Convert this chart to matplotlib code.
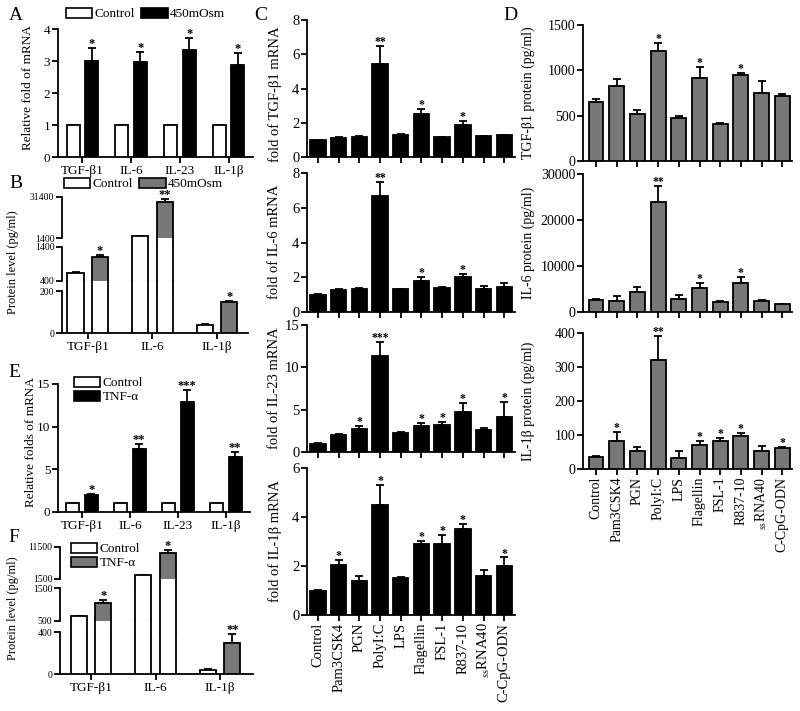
import numpy as np
import matplotlib
matplotlib.use('Agg')
import matplotlib.pyplot as plt
from matplotlib.patches import Patch
from matplotlib.transforms import blended_transform_factory

plt.rcParams['font.family'] = ['Liberation Serif', 'DejaVu Serif']
plt.rcParams['mathtext.fontset'] = 'stix'

# ---------------- data ----------------
genes4 = ['TGF-β1', 'IL-6', 'IL-23', 'IL-1β']
genes3 = ['TGF-β1', 'IL-6', 'IL-1β']

a_ctrl = [1, 1, 1, 1]
a_osm = [3.0, 2.97, 3.35, 2.87]
a_osm_err = [0.42, 0.3, 0.38, 0.37]
a_sig = ['*', '*', '*', '*']

b_ctrl = [650, 2500, 38]
b_ctrl_err = [15, 60, 3]
b_osm = [1110, 27700, 148]
b_osm_err = [50, 2000, 4]
b_sig = ['*', '**', '*']

e_ctrl = [1, 1, 1, 1]
e_tnf = [2.0, 7.4, 12.9, 6.4]
e_tnf_err = [0.15, 0.6, 1.4, 0.6]
e_sig = ['*', '**', '***', '**']

f_ctrl = [650, 2800, 40]
f_ctrl_err = [15, 60, 3]
f_tnf = [1050, 9600, 300]
f_tnf_err = [80, 900, 85]
f_sig = ['*', '*', '**']

tlr = ['Control', 'Pam3CSK4', 'PGN', 'PolyI:C', 'LPS', 'Flagellin', 'FSL-1',
       'R837-10', r'$_{\mathrm{ss}}$RNA40', 'C-CpG-ODN']

c_tgf = [1.0, 1.1, 1.15, 5.45, 1.3, 2.5, 1.15, 1.85, 1.2, 1.27]
c_tgf_err = [0.02, 0.04, 0.06, 1.05, 0.06, 0.3, 0.02, 0.25, 0.03, 0.04]
c_tgf_sig = ['', '', '', '**', '', '*', '', '*', '', '']
c_il6 = [1.0, 1.25, 1.35, 6.7, 1.3, 1.8, 1.4, 2.0, 1.3, 1.45]
c_il6_err = [0.02, 0.06, 0.04, 0.8, 0.04, 0.2, 0.06, 0.2, 0.2, 0.2]
c_il6_sig = ['', '', '', '**', '', '*', '', '*', '', '']
c_il23 = [1.0, 2.0, 2.7, 11.3, 2.3, 3.1, 3.2, 4.7, 2.55, 4.1]
c_il23_err = [0.02, 0.08, 0.4, 1.7, 0.08, 0.35, 0.3, 1.1, 0.3, 1.8]
c_il23_sig = ['', '', '*', '***', '', '*', '*', '*', '', '*']
c_il1b = [1.0, 2.05, 1.4, 4.5, 1.52, 2.9, 2.9, 3.5, 1.6, 2.0]
c_il1b_err = [0.02, 0.18, 0.18, 0.8, 0.05, 0.12, 0.35, 0.22, 0.25, 0.35]
c_il1b_sig = ['', '*', '', '*', '', '*', '*', '*', '', '*']

d_tgf = [647, 831, 522, 1213, 478, 915, 412, 952, 746, 717]
d_tgf_err = [33, 73, 40, 85, 18, 125, 7, 22, 136, 18]
d_tgf_sig = ['', '', '', '*', '', '*', '', '*', '', '']
d_il6 = [2530, 2450, 4260, 23970, 2820, 5200, 2170, 6280, 2310, 1730]
d_il6_err = [360, 940, 1160, 3500, 930, 1080, 280, 1370, 220, 60]
d_il6_sig = ['', '', '', '**', '', '*', '', '*', '', '']
d_il1b = [36, 81, 53, 320, 32, 72, 82, 96, 53, 61]
d_il1b_err = [2, 27, 13, 72, 21, 11, 8, 11, 16, 3]
d_il1b_sig = ['', '*', '', '**', '', '*', '*', '*', '', '*']

GRAY = '#777777'
LW = 1.3

W, H = 800, 711
fig = plt.figure(figsize=(8, 7.11), dpi=100)


def axpx(l, t, r, b):
    return fig.add_axes([l / W, 1 - b / H, (r - l) / W, (b - t) / H])


def style(ax, fs):
    for s in ['top', 'right']:
        ax.spines[s].set_visible(False)
    for s in ['left', 'bottom']:
        ax.spines[s].set_linewidth(LW)
    ax.tick_params(direction='out', width=LW, length=4, labelsize=fs, pad=1.5)


def bars(ax, x, vals, errs, color, width, sig, sfs=9):
    ax.bar(x, vals, width, color=color, edgecolor='k', linewidth=LW, zorder=3)
    ax.errorbar(x, vals, yerr=[np.zeros(len(vals)), errs], fmt='none', ecolor='k',
                elinewidth=LW, capsize=3, capthick=LW, zorder=2)
    for xi, v, e, s in zip(x, vals, errs, sig):
        if s:
            ax.annotate(s, (xi, v + e), xytext=(0, -1.5), textcoords='offset points',
                        ha='center', va='bottom', fontsize=sfs, fontweight='bold')


def legend(ax, colors, labels, x, y, ncol, fs=9.5):
    handles = [Patch(facecolor=c, edgecolor='k', linewidth=1.2) for c in colors]
    ax.legend(handles, labels, loc='center left', bbox_to_anchor=(x / W, 1 - y / H),
              bbox_transform=fig.transFigure, ncol=ncol, frameon=False, fontsize=fs,
              handlelength=2.0, handleheight=0.8, handletextpad=0.15,
              columnspacing=0.5, borderpad=0, borderaxespad=0, labelspacing=0.12)


def ylab(text, x, y, fs=9.5):
    fig.text(x / W, 1 - y / H, text, rotation=90, ha='center', va='center', fontsize=fs)


def letter(t, x, y):
    fig.text(x / W, 1 - y / H, t, ha='center', va='center', fontsize=14)


# ---------------- Panel A ----------------
axA = axpx(58, 29, 253, 157)
style(axA, 9.5)
x4 = np.arange(4)
bars(axA, x4 - 0.19, a_ctrl, [0] * 4, 'white', 0.27, [''] * 4)
bars(axA, x4 + 0.19, a_osm, a_osm_err, 'black', 0.27, a_sig)
axA.set_xlim(-0.5, 3.5)
axA.set_ylim(0, 4)
axA.set_yticks([0, 1, 2, 3, 4])
axA.set_xticks(x4)
axA.set_xticklabels(genes4)
legend(axA, ['white', 'black'], ['Control', '450mOsm'], 66, 14, 2)
ylab('Relative fold of mRNA', 28, 88)
letter('A', 16, 15)

# ---------------- Panel E ----------------
axE = axpx(58, 384, 250, 512)
style(axE, 9.5)
bars(axE, x4 - 0.19, e_ctrl, [0] * 4, 'white', 0.27, [''] * 4)
bars(axE, x4 + 0.19, e_tnf, e_tnf_err, 'black', 0.27, e_sig)
axE.set_xlim(-0.5, 3.5)
axE.set_ylim(0, 15)
axE.set_yticks([0, 5, 10, 15])
axE.set_xticks(x4)
axE.set_xticklabels(genes4)
legend(axE, ['white', 'black'], ['Control', 'TNF-α'], 74, 390, 1)
ylab('Relative folds of mRNA', 31, 442)
letter('E', 14, 372)


# ---------------- broken panels B and F ----------------
def broken(segs, xl, xr, xlim, series, labels, tfs=7):
    x3 = np.arange(len(labels))
    axes = []
    for k, (lo, hi, top, bot, ticks) in enumerate(segs):
        ax = axpx(xl, top, xr, bot)
        style(ax, tfs)
        ax.set_ylim(lo, hi)
        ax.set_xlim(*xlim)
        ax.set_yticks(ticks)
        ax.set_yticklabels([str(t) for t in ticks])
        last = k == len(segs) - 1
        if last:
            ax.set_xticks(x3)
            ax.set_xticklabels(labels, fontsize=9.5)
        else:
            ax.spines['bottom'].set_visible(False)
            ax.set_xticks([])
        for (off, vals, errs, color, sig) in series:
            for xi, v, e, s in zip(x3 + off, vals, errs, sig):
                if v <= lo:
                    continue
                fc = color if v <= hi else 'white'
                ax.bar([xi], [v], 0.25, color=fc, edgecolor='k', linewidth=LW, zorder=3)
                if v <= hi:
                    ax.errorbar([xi], [v], yerr=[[0], [e]], fmt='none', ecolor='k',
                                elinewidth=LW, capsize=3, capthick=LW, zorder=2)
                    if s:
                        ax.annotate(s, (xi, v + e), xytext=(0, -1.5),
                                    textcoords='offset points', ha='center',
                                    va='bottom', fontsize=9, fontweight='bold')
        axes.append(ax)
    # bar edges through the gaps
    for k in range(len(segs) - 1):
        lo_u = segs[k][0]
        gap_top = segs[k][3]
        gap_bot = segs[k + 1][2]
        ax = axes[k + 1]
        tr = blended_transform_factory(ax.transData, fig.transFigure)
        for (off, vals, errs, color, sig) in series:
            for xi, v in zip(x3 + off, vals):
                if v > lo_u:
                    for xe in (xi - 0.125, xi + 0.125):
                        ax.plot([xe, xe], [1 - gap_top / H, 1 - gap_bot / H],
                                color='k', lw=LW, transform=tr, clip_on=False)
    return axes


segsB = [(1400, 31400, 197, 238, [1400, 31400]),
         (400, 1400, 247, 281, [400, 1400]),
         (0, 200, 291, 333, [0, 200])]
axesB = broken(segsB, 62, 248, (-0.40, 2.48),
               [(-0.19, b_ctrl, b_ctrl_err, 'white', [''] * 3),
                (0.19, b_osm, b_osm_err, GRAY, b_sig)], genes3)
legend(axesB[0], ['white', GRAY], ['Control', '450mOsm'], 64, 184, 2)
ylab('Protein level (pg/ml)', 13, 262, 9)
letter('B', 16, 184)

segsF = [(1500, 11500, 547, 579, [1500, 11500]),
         (500, 1500, 588, 621, [500, 1500]),
         (0, 400, 632, 674, [0, 400])]
axesF = broken(segsF, 60, 253, (-0.48, 2.51),
               [(-0.19, f_ctrl, f_ctrl_err, 'white', [''] * 3),
                (0.19, f_tnf, f_tnf_err, GRAY, f_sig)], genes3)
legend(axesF[0], ['white', GRAY], ['Control', 'TNF-α'], 71, 556, 1)
ylab('Protein level (pg/ml)', 13, 608, 9)
letter('F', 14, 537)

# ---------------- Panel C ----------------
x10 = np.arange(10)
c_panels = [
    (20, 157, 8, [0, 2, 4, 6, 8], c_tgf, c_tgf_err, c_tgf_sig, 'fold of TGF-β1 mRNA', 94),
    (173, 312, 8, [0, 2, 4, 6, 8], c_il6, c_il6_err, c_il6_sig, 'fold of IL-6 mRNA', 242),
    (325, 452, 15, [0, 5, 10, 15], c_il23, c_il23_err, c_il23_sig, 'fold of IL-23 mRNA', 388),
    (468, 615, 6, [0, 2, 4, 6], c_il1b, c_il1b_err, c_il1b_sig, 'fold of IL-1β mRNA', 541),
]
for i, (top, bot, ymax, ticks, vals, errs, sig, lab, ly) in enumerate(c_panels):
    ax = axpx(307, top, 515, bot)
    style(ax, 10.5)
    bars(ax, x10, vals, errs, 'black', 0.74, sig, 8.5)
    ax.set_xlim(-0.53, 9.52)
    ax.set_ylim(0, ymax)
    ax.set_yticks(ticks)
    ax.set_xticks(x10)
    if i == 3:
        ax.set_xticklabels(tlr, rotation=90, fontsize=10.5)
    else:
        ax.set_xticklabels([])
    ylab(lab, 275, ly, 10.5)
letter('C', 261, 15)

# ---------------- Panel D ----------------
d_panels = [
    (25, 161, 1500, [0, 500, 1000, 1500], d_tgf, d_tgf_err, d_tgf_sig, 'TGF-β1 protein (pg/ml)'),
    (174, 312, 30000, [0, 10000, 20000, 30000], d_il6, d_il6_err, d_il6_sig, 'IL-6 protein (pg/ml)'),
    (333, 469, 400, [0, 100, 200, 300, 400], d_il1b, d_il1b_err, d_il1b_sig, 'IL-1β protein (pg/ml)'),
]
for i, (top, bot, ymax, ticks, vals, errs, sig, lab) in enumerate(d_panels):
    ax = axpx(583, top, 792, bot)
    style(ax, 10)
    bars(ax, x10, vals, errs, GRAY, 0.72, sig, 8.5)
    ax.set_xlim(-0.63, 9.47)
    ax.set_ylim(0, ymax)
    ax.set_yticks(ticks)
    ax.set_xticks(x10)
    if i == 2:
        ax.set_xticklabels(tlr, rotation=90, fontsize=10)
    else:
        ax.set_xticklabels([])
    ylab(lab, 528, (top + bot) / 2, 10)
letter('D', 510, 16)

fig.savefig('out.png', dpi=100)
